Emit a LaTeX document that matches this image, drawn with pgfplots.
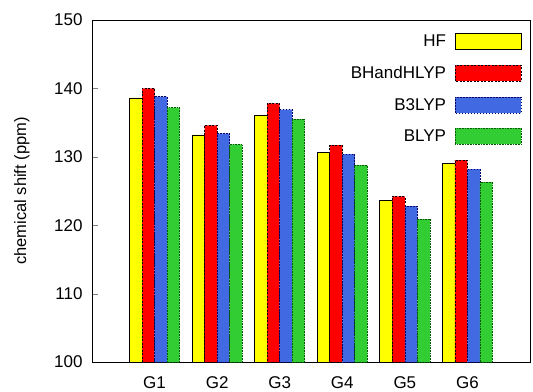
\documentclass[border=0pt]{standalone}
\usepackage{pgfplots}
\pgfplotsset{compat=1.18}
\usepackage{fontspec}
\setmainfont{Liberation Sans}
\definecolor{cyel}{RGB}{255,255,0}
\definecolor{cred}{RGB}{255,0,0}
\definecolor{cblue}{RGB}{65,105,225}
\definecolor{cgreen}{RGB}{50,205,50}
\pgfplotsset{mylegend/.style={legend image code/.code={\draw[##1] (0pt,-8pt) rectangle (66pt,8pt);}}}
\begin{document}
\begin{tikzpicture}
\begin{axis}[
  at={(0,0)}, anchor=south west,
  scale only axis, width=438pt, height=342pt,
  xmin=0, xmax=7, ymin=100, ymax=150,
  ytick={100,110,120,130,140,150},
  xtick={1,2,3,4,5,6}, xticklabels={G1,G2,G3,G4,G5,G6},
  major x tick style={draw=none},
  ytick pos=left, tick align=inside, major tick length=6pt,
  axis line style={line width=0.8pt},
  tick label style={font=\fontsize{17}{20}\selectfont},
  /pgf/number format/assume math mode=true,
  yticklabel style={xshift=-6pt},
  xticklabel style={yshift=-5pt},
  ylabel={chemical shift (ppm)},
  ylabel style={at={(axis description cs:-0.16,0.5)}, anchor=center, font=\fontsize{16.5}{19}\selectfont},
  ybar, bar width=0.2,
  legend plot pos=right,
  legend cell align=right,
  legend style={draw=none, fill=none, at={(1,1)}, anchor=north east,
    xshift=-5pt, yshift=-11pt, row sep=14pt, column sep=7pt,
    font=\fontsize{17}{20}\selectfont},
]
\addplot[mylegend, bar shift=-0.3, fill=cyel, draw=black, line width=0.8pt]
  coordinates {(1,138.6)(2,133.2)(3,136.0)(4,130.7)(5,123.6)(6,129.0)};
\addlegendentry{HF}
\addplot[mylegend, bar shift=-0.1, fill=cred, draw=black, line width=0.6pt, dash pattern=on 2pt off 1.5pt]
  coordinates {(1,140.0)(2,134.6)(3,137.8)(4,131.7)(5,124.2)(6,129.5)};
\addlegendentry{BHandHLYP}
\addplot[mylegend, bar shift=0.1, fill=cblue, draw=black!60!blue, line width=0.6pt, dash pattern=on 1.5pt off 1.5pt]
  coordinates {(1,138.8)(2,133.4)(3,136.9)(4,130.4)(5,122.8)(6,128.2)};
\addlegendentry{B3LYP}
\addplot[mylegend, bar shift=0.3, fill=cgreen, draw=green!35!black, line width=0.6pt, dash pattern=on 0.8pt off 0.8pt]
  coordinates {(1,137.2)(2,131.8)(3,135.5)(4,128.8)(5,120.9)(6,126.3)};
\addlegendentry{BLYP}
\end{axis}
\path (-92pt,-25pt) rectangle (441pt,362pt);
\end{tikzpicture}
\end{document}
